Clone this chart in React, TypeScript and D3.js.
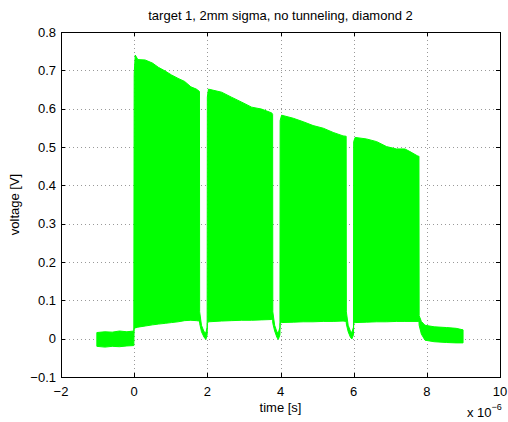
import { useEffect, useRef } from 'react';
import * as d3 from 'd3';

// time in units of 1e-6 s, envelope of the dense bunch signal (volts)
const timeUs = [
  -1.02, -0.8, -0.6, -0.4, -0.2, -0.01,
  0.0, 0.03, 0.1, 0.3, 0.5, 0.66, 0.85, 1.02, 1.2, 1.38, 1.55, 1.7, 1.785,
  1.79, 1.84, 1.91, 1.96, 1.995,
  2.0, 2.03, 2.39, 2.66, 2.94, 3.21, 3.48, 3.76, 3.785,
  3.79, 3.84, 3.9, 3.94, 3.985,
  3.99, 4.03, 4.35, 4.62, 4.89, 5.17, 5.44, 5.71, 5.795,
  5.8, 5.85, 5.91, 5.95, 5.995,
  6.0, 6.04, 6.35, 6.63, 6.9, 7.17, 7.4, 7.54, 7.76, 7.785,
  7.79, 7.85, 7.95, 8.2, 8.54, 8.8, 8.99,
];
const upper = [
  0.016, 0.018, 0.017, 0.02, 0.018, 0.02,
  0.69, 0.74, 0.728, 0.727, 0.719, 0.708, 0.698, 0.688, 0.679, 0.671, 0.657, 0.651, 0.645,
  0.07, 0.035, 0.018, 0.015, 0.03,
  0.63, 0.651, 0.643, 0.63, 0.617, 0.604, 0.599, 0.589, 0.585,
  0.07, 0.035, 0.018, 0.015, 0.03,
  0.569, 0.583, 0.575, 0.566, 0.556, 0.549, 0.538, 0.529, 0.528,
  0.07, 0.035, 0.02, 0.016, 0.03,
  0.514, 0.525, 0.521, 0.514, 0.501, 0.495, 0.495, 0.488, 0.476, 0.476,
  0.06, 0.045, 0.035, 0.031, 0.029, 0.027, 0.023,
];
const lower = [
  -0.02, -0.022, -0.02, -0.021, -0.019, -0.018,
  0.027, 0.028, 0.03, 0.033, 0.036, 0.038, 0.04, 0.042, 0.044, 0.047, 0.048, 0.047, 0.046,
  0.04, 0.018, 0.004, -0.002, 0.01,
  0.04, 0.044, 0.046, 0.047, 0.048, 0.048, 0.049, 0.05, 0.048,
  0.04, 0.02, 0.004, -0.002, 0.01,
  0.04, 0.042, 0.043, 0.044, 0.044, 0.045, 0.045, 0.046, 0.045,
  0.038, 0.018, 0.004, -0.001, 0.01,
  0.04, 0.042, 0.043, 0.044, 0.044, 0.045, 0.045, 0.045, 0.045, 0.045,
  0.035, 0.012, -0.004, -0.008, -0.01, -0.011, -0.011,
];

const xTicks = [-2, 0, 2, 4, 6, 8, 10];
const yTicks = [-0.1, 0, 0.1, 0.2, 0.3, 0.4, 0.5, 0.6, 0.7, 0.8];

const title = 'target 1, 2mm sigma, no tunneling, diamond 2';
const xLabel = 'time [s]';
const yLabel = 'voltage [V]';

const App = () => {
  const ref = useRef<SVGSVGElement | null>(null);

  useEffect(() => {
    const W = 508, H = 422;
    const left = 61, right = 500, top = 32, bottom = 377;
    const font = '"Liberation Sans", Arial, Helvetica, sans-serif';

    const svg = d3.select(ref.current);
    svg.selectAll('*').remove();
    svg.attr('width', W).attr('height', H);

    svg.append('rect').attr('width', W).attr('height', H).attr('fill', '#fff');

    const x = d3.scaleLinear().domain([-2, 10]).range([left, right]);
    const y = d3.scaleLinear().domain([-0.1, 0.8]).range([bottom, top]);

    // dotted grid
    const grid = svg.append('g')
      .attr('stroke', '#000')
      .attr('stroke-opacity', 0.4)
      .attr('stroke-dasharray', '1,3')
      .attr('stroke-width', 1);
    xTicks.slice(1, -1).forEach(t => {
      grid.append('line')
        .attr('x1', Math.round(x(t)) + 0.5).attr('x2', Math.round(x(t)) + 0.5)
        .attr('y1', top).attr('y2', bottom);
    });
    yTicks.slice(1, -1).forEach(t => {
      grid.append('line')
        .attr('x1', left).attr('x2', right)
        .attr('y1', Math.round(y(t)) + 0.5).attr('y2', Math.round(y(t)) + 0.5);
    });

    // signal envelope
    const pts = timeUs.map((t, i) => ({ t, hi: upper[i], lo: lower[i] }));
    const area = d3.area<{ t: number; hi: number; lo: number }>()
      .x(d => x(d.t))
      .y0(d => y(d.lo))
      .y1(d => y(d.hi));
    svg.append('path')
      .datum(pts)
      .attr('fill', '#00ff00')
      .attr('stroke', '#00ff00')
      .attr('stroke-width', 1)
      .attr('d', area);

    // box and ticks
    svg.append('rect')
      .attr('x', left + 0.5).attr('y', top + 0.5)
      .attr('width', right - left).attr('height', bottom - top)
      .attr('fill', 'none').attr('stroke', '#000').attr('stroke-width', 1);

    const tl = 4;
    const ticks = svg.append('g').attr('stroke', '#000').attr('stroke-width', 1);
    xTicks.forEach(t => {
      const px = Math.round(x(t)) + 0.5;
      ticks.append('line').attr('x1', px).attr('x2', px).attr('y1', bottom).attr('y2', bottom - tl);
      ticks.append('line').attr('x1', px).attr('x2', px).attr('y1', top).attr('y2', top + tl);
    });
    yTicks.forEach(t => {
      const py = Math.round(y(t)) + 0.5;
      ticks.append('line').attr('x1', left).attr('x2', left + tl).attr('y1', py).attr('y2', py);
      ticks.append('line').attr('x1', right).attr('x2', right - tl).attr('y1', py).attr('y2', py);
    });

    const txt = svg.append('g').attr('font-family', font).attr('font-size', 13).attr('fill', '#000');
    const fmt = (v: number, f: string) => d3.format(f)(v).replace('-', '\u2212');

    xTicks.forEach(t => {
      txt.append('text')
        .attr('x', x(t)).attr('y', 396)
        .attr('text-anchor', 'middle')
        .text(fmt(t, 'd'));
    });
    yTicks.forEach(t => {
      txt.append('text')
        .attr('x', left - 5).attr('y', y(t) + 4.5)
        .attr('text-anchor', 'end')
        .text(fmt(t, '.1~f'));
    });

    txt.append('text')
      .attr('x', (left + right) / 2).attr('y', 20)
      .attr('text-anchor', 'middle')
      .text(title);
    txt.append('text')
      .attr('x', (left + right) / 2).attr('y', 412)
      .attr('text-anchor', 'middle')
      .text(xLabel);
    txt.append('text')
      .attr('transform', `translate(19,${(top + bottom) / 2}) rotate(-90)`)
      .attr('text-anchor', 'middle')
      .text(yLabel);

    // exponent label
    const ex = txt.append('text').attr('x', 467).attr('y', 417);
    ex.append('tspan').text('x 10');
    ex.append('tspan').attr('dy', -7).attr('font-size', 9).text('\u22126');
  }, []);

  return (
    <div style={{ position: 'absolute', left: 0, top: 0 }}>
      <svg ref={ref}></svg>
    </div>
  );
};

export default App;
